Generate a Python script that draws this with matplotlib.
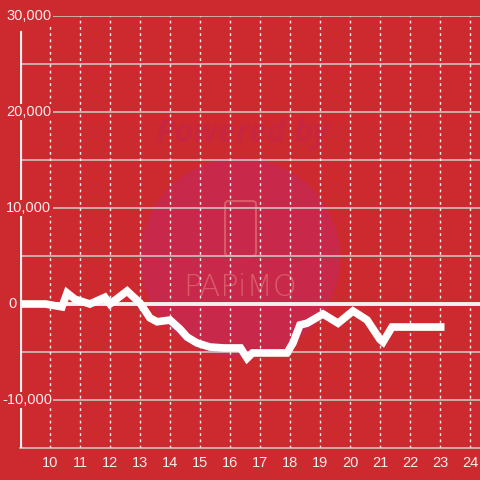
import matplotlib
matplotlib.use("Agg")
import matplotlib.pyplot as plt
from matplotlib.patches import Circle, FancyBboxPatch
import matplotlib.transforms as mtransforms

# ---- data ----
hours = [9.0, 9.85, 10.4, 10.57, 10.83, 11.33, 11.83, 12.0, 12.57, 13.0, 13.33,
         13.57, 14.0, 14.33, 14.57, 14.9, 15.33, 15.8, 16.35, 16.57, 16.75, 17.9,
         18.1, 18.33, 18.57, 19.1, 19.6, 20.1, 20.57, 21.0, 21.1, 21.4, 23.15]
values = [0, 0, -300, 1150, 500, 0, 700, 0, 1350, 100, -1450,
          -1850, -1670, -2600, -3440, -4060, -4480, -4580, -4580, -5650, -5100, -5100,
          -4060, -2190, -2000, -1040, -2000, -730, -1670, -3700, -3960, -2400, -2400]
x_ticks = list(range(10, 25))
y_ticks = [-10000, 0, 10000, 20000, 30000]
y_tick_labels = ["-10,000", "0", "10,000", "20,000", "30,000"]
y_grid = [-10000, -5000, 5000, 10000, 15000, 20000, 25000, 30000]

BG = "#cd2a2f"
TXT = "#f2eeee"

plt.rcParams['font.family'] = ['Liberation Sans', 'DejaVu Sans']
fig = plt.figure(figsize=(4.8, 4.8), dpi=100, facecolor=BG)
ax = fig.add_axes([20/480, 32/480, 460/480, 432/480])
ax.set_facecolor(BG)
ax.set_xlim(9, 9 + 460/30)
ax.set_ylim(-15000, 30000)

# watermark (behind grid and data)
ft = fig.transFigure
ax.add_patch(Circle((240/480, 1 - 258/480), 100/480, transform=ft,
                    facecolor="#c8284a", edgecolor="none", zorder=0.5, clip_on=False))
ax.text(243/480, 1 - 133/480, "Powered by", transform=ft, ha="center", va="center",
        fontsize=23, fontweight="bold", fontstyle="italic", color="#c8263f",
        family=["Open Sans", "DejaVu Sans"], zorder=0.6)
ax.add_patch(FancyBboxPatch((225/480, 1 - 256/480), 31/480, 55/480,
                            boxstyle="round,pad=0,rounding_size=0.008",
                            transform=ft, facecolor="none",
                            edgecolor="#d95a68", lw=1.5, zorder=0.6, clip_on=False))
ax.text(240/480, 1 - 288/480, "PAPiMO", transform=ft, ha="center", va="center",
        fontsize=22, color="#d95a68", family=["DejaVu Sans"], fontweight="light",
        zorder=0.6)

# grid
for yv in y_grid:
    ax.axhline(yv, color="#cfcfcf", lw=1.1, zorder=1)
for xv in x_ticks:
    ax.axvline(xv, color="#f0f0f0", lw=1.0, ls=(0, (2, 2.5)), zorder=1)
ax.axhline(0, color="#f4f0f0", lw=2.8, zorder=2)

# data line
ax.plot(hours, values, color="white", lw=5.5, solid_joinstyle="miter",
        solid_capstyle="butt", zorder=3)

# spines
for s in ["top", "right", "left"]:
    ax.spines[s].set_visible(False)
ax.spines["bottom"].set_color("#cfcfcf")
ax.spines["bottom"].set_linewidth(1.1)
ax.axvline(9, ymin=0, ymax=(28000 + 15000) / 45000 + 0.005, color="#f4f0f0", lw=3.0, zorder=4)

ax.set_yticks([])
ax.set_xticks(x_ticks)
ax.set_xticklabels([str(x) for x in x_ticks])
ax.tick_params(axis="x", length=0, colors=TXT, labelsize=10.5, pad=6)

trans = mtransforms.blended_transform_factory(fig.transFigure, ax.transData)
for yv, lab in zip(y_ticks, y_tick_labels):
    xpos = 2/480 if lab.startswith("-") else (8/480 if lab == "0" else 6/480)
    ax.text(xpos, yv, lab, transform=trans, ha="left", va="center", fontsize=10.5,
            color=TXT, zorder=5, clip_on=False,
            bbox=dict(facecolor=BG, edgecolor="none", pad=1.0))

fig.savefig("out.png", dpi=100, facecolor=BG)
